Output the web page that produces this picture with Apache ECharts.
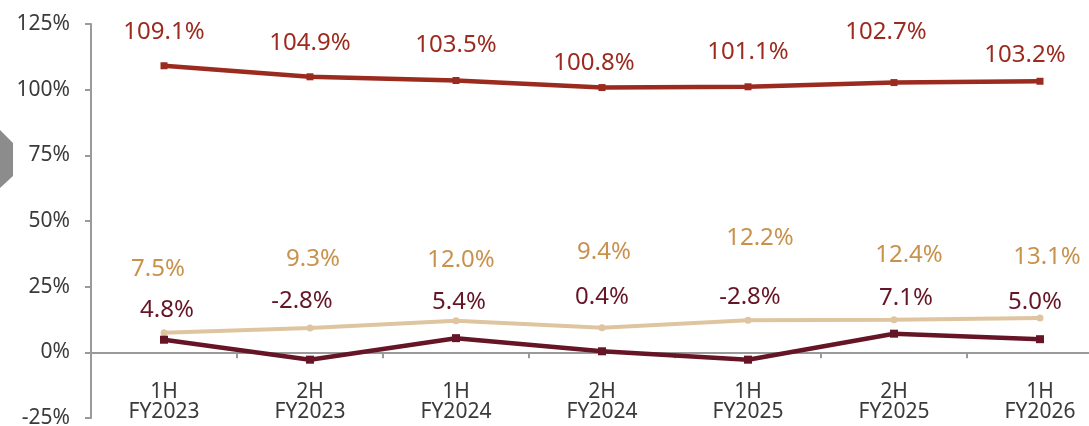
<!DOCTYPE html>
<html>
<head>
<meta charset="utf-8">
<script src="https://cdn.jsdelivr.net/npm/echarts@6/dist/echarts.min.js"></script>
<style>
  html, body { margin: 0; padding: 0; background: #fff; }
  #chart { width: 1089px; height: 426px; }
</style>
</head>
<body>
<div id="chart"></div>
<script>
const categories = ['1H\nFY2023', '2H\nFY2023', '1H\nFY2024', '2H\nFY2024', '1H\nFY2025', '2H\nFY2025', '1H\nFY2026']
const redValues = [109.1, 104.9, 103.5, 100.8, 101.1, 102.7, 103.2]
const tanValues = [7.5, 9.3, 12.0, 9.4, 12.2, 12.4, 13.1]
const darkValues = [4.8, -2.8, 5.4, 0.4, -2.8, 7.1, 5.0]

// label placement (px), hand-tuned like the source deck
const redShift = [[0, 34], [0, 34], [0, 35], [-8, 24], [0, 35], [-8, 50], [-15, 26]]
const tanShift = [[-6, 63], [3, 69], [5, 61], [2, 75], [12, 82], [15, 65], [7, 61]]
const darkShift = [[3, 30], [-8, 59], [3, 36], [0, 54], [2, 63], [12, 36], [-5, 37]]

const FONT = '"Noto Sans", "Open Sans", sans-serif'

function withLabels(values, shift, color) {
  return values.map((v, i) => ({
    value: v,
    label: {
      show: true,
      position: 'inside',
      offset: [shift[i][0], -shift[i][1]],
      formatter: v.toFixed(1) + '%',
      color: color,
      fontSize: 24,
      fontFamily: FONT
    }
  }))
}

function lineSeries(name, values, shift, color, labelColor, symbol, size, width) {
  return {
    name: name,
    type: 'line',
    data: withLabels(values, shift, labelColor),
    symbol: symbol,
    symbolSize: size,
    showAllSymbol: true,
    lineStyle: { color: color, width: width },
    itemStyle: { color: color },
    animation: false,
    z: 3
  }
}

const chart = echarts.init(document.getElementById('chart'))
chart.setOption({
  backgroundColor: '#fff',
  grid: {
    left: 91, top: 24, width: 1022, height: 394,
    containLabel: false,
    outerBoundsMode: 'none'
  },
  xAxis: {
    type: 'category',
    data: categories,
    axisLine: { onZero: true, lineStyle: { color: '#9a9a9a', width: 2 } },
    axisTick: { show: true, length: 6, lineStyle: { color: '#9a9a9a', width: 2 } },
    axisLabel: {
      color: '#3a3a3a',
      fontSize: 21,
      lineHeight: 20,
      margin: -36,
      fontFamily: FONT
    },
    splitLine: { show: false }
  },
  yAxis: {
    type: 'value',
    min: -25,
    max: 125,
    interval: 25,
    axisLine: { show: true, lineStyle: { color: '#9a9a9a', width: 2 } },
    axisTick: { show: true, length: 6, lineStyle: { color: '#9a9a9a', width: 2 } },
    axisLabel: {
      formatter: '{value}%',
      color: '#3a3a3a',
      fontSize: 21,
      margin: 21,
      fontFamily: FONT
    },
    splitLine: { show: false }
  },
  graphic: [{
    type: 'polygon',
    shape: { points: [[-40, 130], [0, 130], [13, 143], [13, 176], [0, 188], [-40, 188]] },
    style: { fill: '#8c8c8c' },
    silent: true
  }],
  series: [
    lineSeries('red', redValues, redShift, '#9b2a1f', '#9b2a1f', 'rect', 7, 4.5),
    lineSeries('tan', tanValues, tanShift, '#dfc4a0', '#c8924d', 'circle', 7, 4),
    lineSeries('dark', darkValues, darkShift, '#651525', '#651525', 'rect', 8, 4.5)
  ]
})
</script>
</body>
</html>
